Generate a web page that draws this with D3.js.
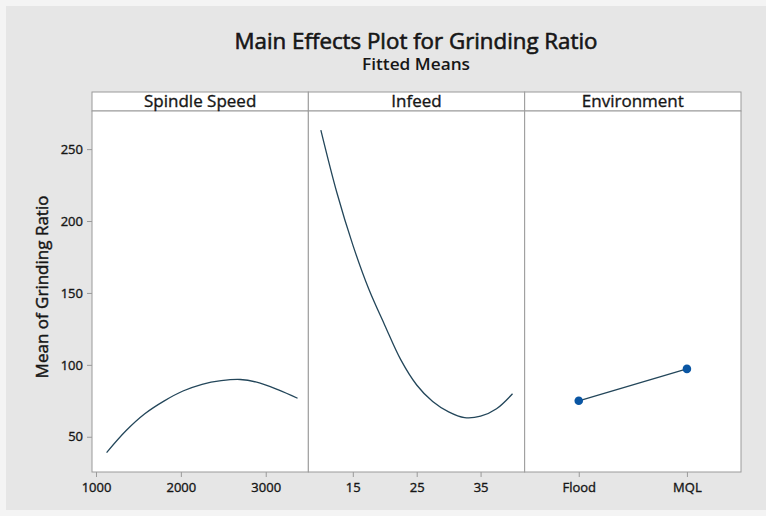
<!DOCTYPE html>
<html>
<head>
<meta charset="utf-8">
<script src="https://cdn.jsdelivr.net/npm/d3@7"></script>
<style>
  html, body { margin: 0; padding: 0; background: #ffffff; }
  svg { display: block; }
  text { font-family: "Open Sans", "Noto Sans", sans-serif; fill: #161616; }
  .ink { stroke: #161616; stroke-width: 0.35px; }
</style>
</head>
<body>
<svg id="chart" width="766" height="516"></svg>
<script>
// Fitted means for each factor
const spindleSpeed = [1125, 1350, 1575, 1800, 2025, 2250, 2475, 2700, 2925, 3150, 3375];
const spindleMeans = [39.0, 54.0, 66.0, 74.8, 81.8, 86.5, 89.0, 89.8, 87.5, 82.6, 76.8];

const infeed = [10, 12.5, 15, 17.5, 20, 22.5, 25, 27.5, 30, 32.5, 35, 37.5, 40];
const infeedMeans = [263.2, 219.8, 183.4, 152.7, 127.6, 103.6, 86.0, 74.5, 67.3, 63.3, 64.3, 69.5, 79.9];

const environment = ["Flood", "MQL"];
const environmentMeans = [75.0, 97.2];

// Axis ticks
const yTicks = [50, 100, 150, 200, 250];
const spindleTicks = [1000, 2000, 3000];
const infeedTicks = [15, 25, 35];

const panelTitles = ["Spindle Speed", "Infeed", "Environment"];
const chartTitle = "Main Effects Plot for Grinding Ratio";
const chartSubtitle = "Fitted Means";
const yTitle = "Mean of Grinding Ratio";

const svg = d3.select("#chart");
const lineColor = "#23465a";
const dotColor = "#0a56a3";
const frameColor = "#9a9a9a";

// Background
svg.append("rect").attr("x", 0).attr("y", 0).attr("width", 766).attr("height", 516).attr("fill", "#f4f4f4");
svg.append("rect").attr("x", 6).attr("y", 6).attr("width", 760).attr("height", 504).attr("fill", "#e6e6e6");

// Layout
const left = 92, right = 741;
const headerTop = 92, plotTop = 111, plotBottom = 472;
const pw = (right - left) / 3;
const panelX = [0, 1, 2].map(i => left + i * pw);

const y = d3.scaleLinear().domain([25.5, 276.5]).range([plotBottom, plotTop]);

const xSpindle = d3.scaleLinear().domain([953, 3502]).range([panelX[0], panelX[1]]);
const xInfeed = d3.scaleLinear().domain([8.04, 41.9]).range([panelX[1], panelX[2]]);
const xEnv = d3.scalePoint().domain(environment).range([panelX[2], right]).padding(0.5);

// Titles
svg.append("text").attr("class", "ink").attr("x", 416).attr("y", 49).attr("text-anchor", "middle")
  .attr("font-size", 22).style("stroke-width", "0.6px")
  .attr("textLength", 363).attr("lengthAdjust", "spacingAndGlyphs").text(chartTitle);
svg.append("text").attr("x", 416).attr("y", 70).attr("text-anchor", "middle")
  .attr("font-size", 15.5).attr("font-weight", 600)
  .attr("textLength", 108).attr("lengthAdjust", "spacingAndGlyphs").text(chartSubtitle);

// Panels: header strip + plot area
panelX.forEach((x0, i) => {
  svg.append("rect").attr("x", x0).attr("y", headerTop).attr("width", pw).attr("height", plotTop - headerTop)
    .attr("fill", "#ffffff").attr("stroke", frameColor).attr("stroke-width", 1);
  svg.append("rect").attr("x", x0).attr("y", plotTop).attr("width", pw).attr("height", plotBottom - plotTop)
    .attr("fill", "#ffffff").attr("stroke", frameColor).attr("stroke-width", 1);
  svg.append("text").attr("class", "ink").attr("x", x0 + pw / 2).attr("y", 106.5).attr("text-anchor", "middle")
    .attr("font-size", 17).text(panelTitles[i]);
});

// Y axis
function styleAxis(g) {
  g.select(".domain").remove();
  g.selectAll("line").attr("stroke", frameColor);
  g.selectAll("text").attr("class", "ink").attr("font-size", 13)
    .attr("font-family", "Open Sans, sans-serif").attr("fill", "#161616");
}
svg.append("g").attr("transform", `translate(${left},0)`)
  .call(d3.axisLeft(y).tickValues(yTicks).tickSize(5).tickPadding(4))
  .call(styleAxis);

svg.append("text").attr("class", "ink").attr("transform", "translate(48,287) rotate(-90)")
  .attr("text-anchor", "middle").attr("font-size", 17).style("stroke-width", "0.45px").text(yTitle);

// X axes
svg.append("g").attr("transform", `translate(0,${plotBottom})`)
  .call(d3.axisBottom(xSpindle).tickValues(spindleTicks).tickFormat(d3.format("d")).tickSize(5).tickPadding(6))
  .call(styleAxis);
svg.append("g").attr("transform", `translate(0,${plotBottom})`)
  .call(d3.axisBottom(xInfeed).tickValues(infeedTicks).tickFormat(d3.format("d")).tickSize(5).tickPadding(6))
  .call(styleAxis);
svg.append("g").attr("transform", `translate(0,${plotBottom})`)
  .call(d3.axisBottom(xEnv).tickSize(5).tickPadding(6))
  .call(styleAxis);

// Fitted-mean curves
const curve = d3.line().curve(d3.curveCatmullRom.alpha(0.5));
svg.append("path")
  .attr("d", curve(spindleSpeed.map((s, i) => [xSpindle(s), y(spindleMeans[i])])))
  .attr("fill", "none").attr("stroke", lineColor).attr("stroke-width", 1.3);
svg.append("path")
  .attr("d", curve(infeed.map((f, i) => [xInfeed(f), y(infeedMeans[i])])))
  .attr("fill", "none").attr("stroke", lineColor).attr("stroke-width", 1.3);

// Categorical factor: connected means
const envPts = environment.map((e, i) => [xEnv(e), y(environmentMeans[i])]);
svg.append("path").attr("d", d3.line()(envPts))
  .attr("fill", "none").attr("stroke", lineColor).attr("stroke-width", 1.3);
svg.selectAll(".env-dot").data(envPts).enter().append("circle")
  .attr("class", "env-dot").attr("cx", d => d[0]).attr("cy", d => d[1]).attr("r", 4.3)
  .attr("fill", dotColor);
</script>
</body>
</html>
